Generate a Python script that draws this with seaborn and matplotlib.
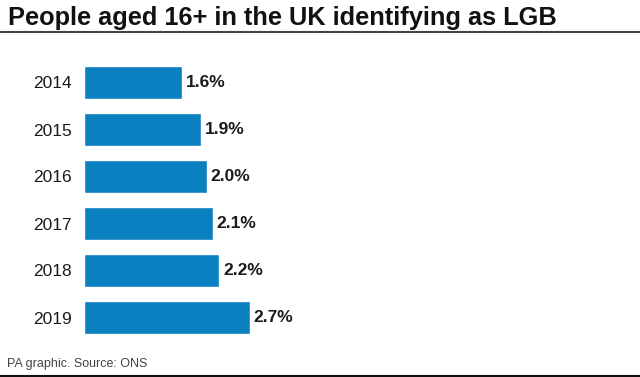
import matplotlib
matplotlib.use("Agg")
import matplotlib.pyplot as plt
import seaborn as sns
import pandas as pd
from matplotlib.lines import Line2D

years = ["2014", "2015", "2016", "2017", "2018", "2019"]
values = [1.6, 1.9, 2.0, 2.1, 2.2, 2.7]
labels = ["1.6%", "1.9%", "2.0%", "2.1%", "2.2%", "2.7%"]

df = pd.DataFrame({"year": years, "pct": values})

sns.set_theme(style="white")
plt.rcParams["font.family"] = ["Liberation Sans", "DejaVu Sans"]

fig = plt.figure(figsize=(6.4, 3.77), dpi=100)
ax = fig.add_axes([84 / 640, 1 - 341 / 377, 556 / 640, 282 / 377])

sns.barplot(data=df, x="pct", y="year", color="#0a80c0", saturation=1,
            width=0.7, ax=ax)

for i, (v, lab) in enumerate(zip(values, labels)):
    ax.text(v + 0.06, i, lab, va="center", ha="left", fontsize=12.5,
            fontweight="bold", color="#1a1a1a")

ax.set_xlim(0, 556 / 61.5)
ax.set_ylim(5.5, -0.5)
ax.set_xlabel("")
ax.set_ylabel("")
ax.set_xticks([])
ax.tick_params(axis="y", length=0, pad=8.5, labelsize=12.5, labelcolor="#1a1a1a")
sns.despine(ax=ax, left=True, bottom=True)

fig.text(8 / 640, 1 - 18 / 377, "People aged 16+ in the UK identifying as LGB",
         fontsize=18.3, fontweight="bold", va="center", ha="left", color="#111111")
fig.add_artist(Line2D([0, 1], [1 - 32 / 377, 1 - 32 / 377], color="#444444", lw=1.5))
fig.text(7 / 640, 1 - 364 / 377, "PA graphic. Source: ONS", fontsize=9,
         va="center", ha="left", color="#444444")
fig.add_artist(Line2D([0, 1], [1 / 377, 1 / 377], color="#111111", lw=1.5))

fig.savefig("out.png", dpi=100)
